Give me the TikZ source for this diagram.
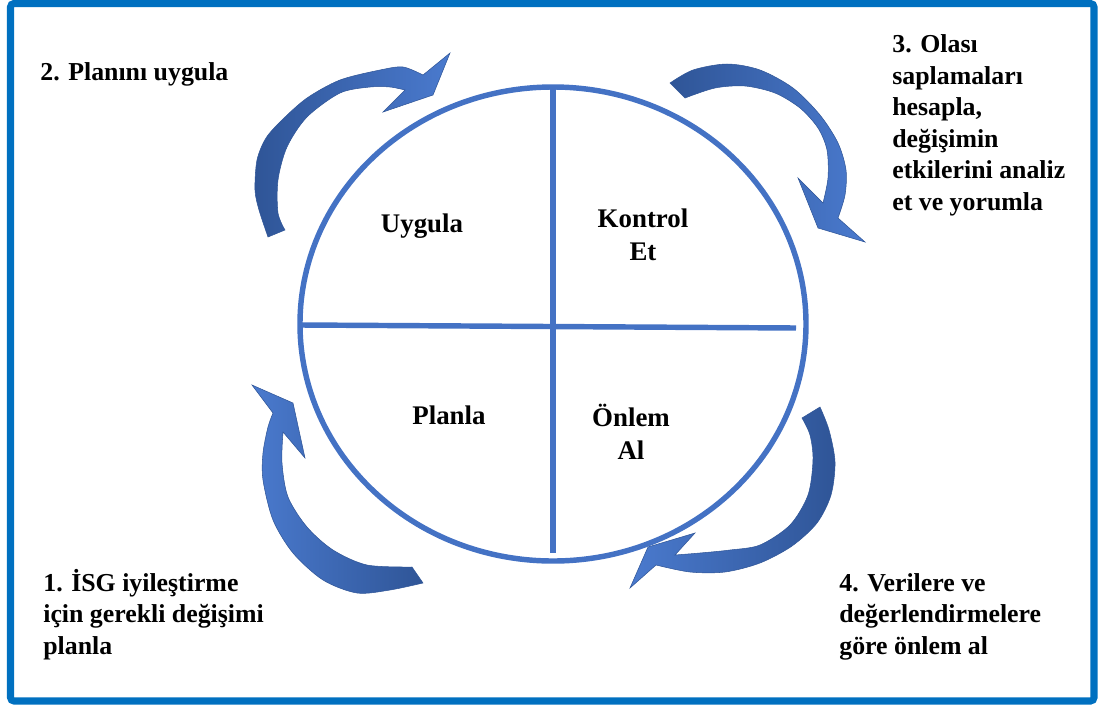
\documentclass[tikz,border=0pt]{standalone}
\usepackage{fontspec}
\setmainfont{Liberation Serif}
\usetikzlibrary{positioning}
\definecolor{frameblue}{RGB}{0,112,192}
\definecolor{rimblue}{RGB}{68,114,196}
\definecolor{arrowdark}{RGB}{47,85,151}
\definecolor{arrowlight}{RGB}{74,122,206}

\begin{document}
\begin{tikzpicture}[x=0.02cm,y=-0.02cm,
    rim/.style={draw=rimblue,line width=3.1pt},
    qlabel/.style={font=\fontsize{15.3}{19}\selectfont\bfseries,align=center,inner sep=0pt},
    steptext/.style={font=\fontsize{14.7}{17.9}\selectfont\bfseries,align=left,anchor=base west,inner sep=0pt},
    curlright/.style={left color=arrowdark,right color=arrowlight,draw=arrowdark,line width=0.3pt},
    curlleft/.style={left color=arrowlight,right color=arrowdark,draw=arrowdark,line width=0.3pt}]
    \useasboundingbox (0,0) rectangle (1099,704);
    \draw[frameblue,line width=4pt,rounded corners=2pt] (10.5,3.5) rectangle (1094,701);
    \coordinate (c) at (553,324);
    \draw[rim] (c) ellipse [x radius=253,y radius=237];
    \draw[rim] (553,88) -- (553,553);
    \draw[rim] (302,325) -- (796,328);
    \node (uyg) [qlabel,anchor=base] at (422,232) {Uygula};
    \node (kon) [qlabel] at (643,235) {Kontrol\\Et};
    \node (pln) [qlabel,anchor=base] at (449,424) {Planla};
    \node (onl) [qlabel] at (631,432) {Önlem\\Al};
    \path[curlright] plot[smooth] coordinates {(268,237) (259,210) (255,190) (257,160) (266,138) (282,120) (307,98) (340,80) (380,70) (403,67) (423,75)}
      -- (450,53) -- (433,95) -- (383,112)
      -- plot[smooth] coordinates {(405,90) (390,87) (370,87) (340,93) (307,117) (287,147) (278,180) (278,213) (285,230)} -- cycle;
    \path[curlright] plot[smooth] coordinates {(670,83) (693,70) (727,64) (760,70) (793,88) (820,115) (838,143) (846,170) (845,195) (838,218)}
      -- (865,242) -- (818,228) -- (798,178)
      -- plot[smooth] coordinates {(823,203) (828,178) (827,150) (818,128) (800,108) (775,93) (745,86) (715,88) (685,98)} -- cycle;
    \path[curlleft] plot[smooth] coordinates {(820,407) (829,430) (835,462) (831,495) (817,523) (792,546) (760,563) (725,572) (690,572) (656,565)}
      -- (630,588) -- (648,547) -- (695,533)
      -- plot[smooth] coordinates {(675,555) (700,553) (730,550) (760,545) (790,525) (808,495) (813,460) (810,435) (802,418)} -- cycle;
    \path[curlleft] plot[smooth] coordinates {(423,583) (390,590) (357,593) (323,580) (293,553) (273,520) (263,480) (263,453) (268,427) (273,413)}
      -- (252,385) -- (293,403) -- (305,458)
      -- plot[smooth] coordinates {(283,432) (282,463) (288,497) (307,527) (333,550) (367,565) (412,567)} -- cycle;
    \node (s2) [steptext] at (40,80) {2. Planını uygula};
    \node (s3) [steptext] at (892,210) {3. Olası\\saplamaları\\hesapla,\\değişimin\\etkilerini analiz\\et ve yorumla};
    \node (s1) [steptext] at (43,654) {1. İSG iyileştirme\\için gerekli değişimi\\planla};
    \node (s4) [steptext] at (839,654) {4. Verilere ve\\değerlendirmelere\\göre önlem al};
\end{tikzpicture}
\end{document}
